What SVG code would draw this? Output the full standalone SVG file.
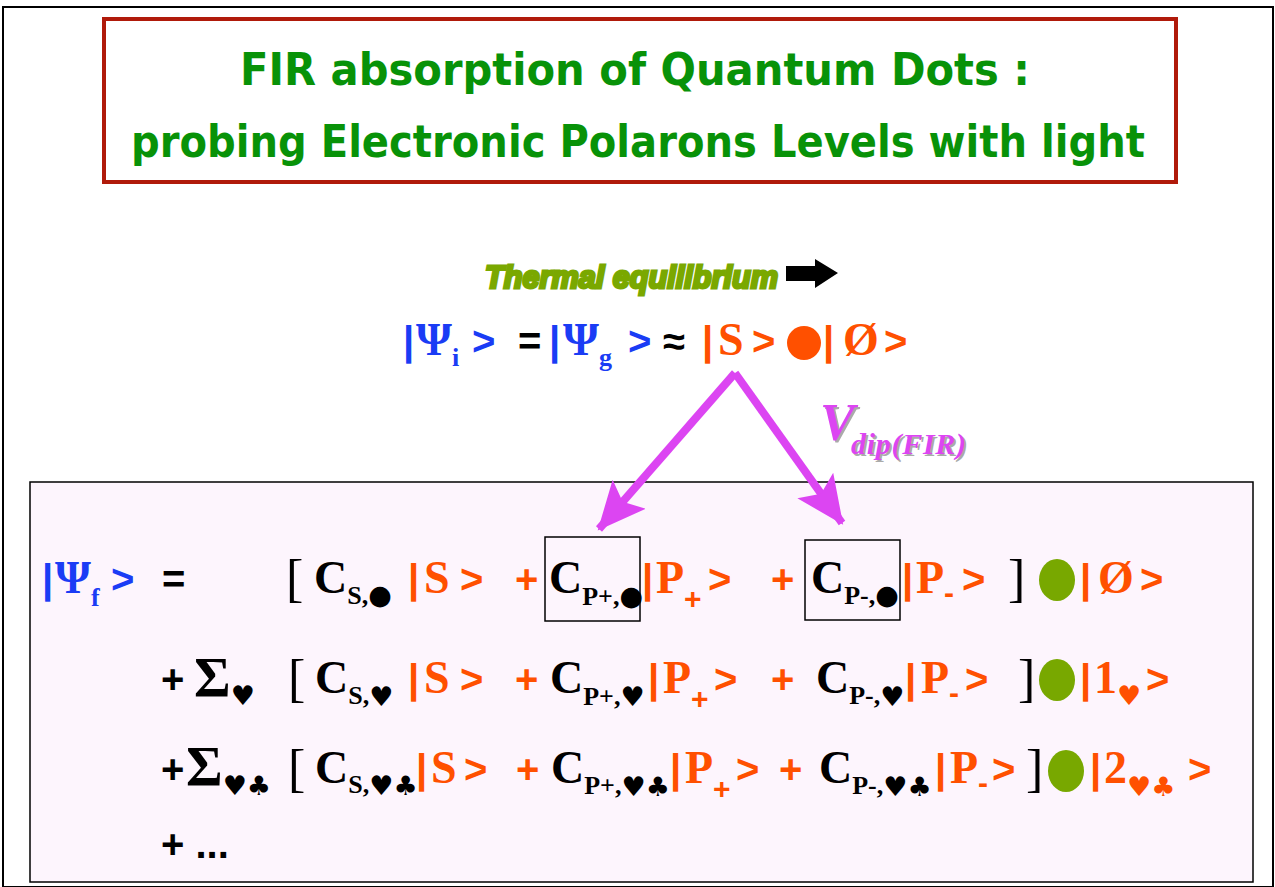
<svg xmlns="http://www.w3.org/2000/svg" width="1275" height="887" viewBox="0 0 1275 887">
<defs>
<style>
.o{fill:#ff5000}.b{fill:#1a3cf5}.k{fill:#000}
.sa{font-family:"Liberation Sans",Arial,sans-serif;font-weight:bold;font-size:40px}
.se{font-family:"Liberation Serif","Times New Roman",serif;font-weight:bold;font-size:46px}
.br{font-family:"Liberation Serif","Times New Roman",serif;font-size:52px}
.sub{font-family:"Liberation Serif","Times New Roman",serif;font-weight:bold;font-size:26px}
.sym{font-family:"DejaVu Sans",sans-serif;font-size:27px;font-weight:normal}
.ps{font-family:"Liberation Sans",Arial,sans-serif;font-weight:bold;font-size:30px}
.sig{font-family:"Liberation Serif","Times New Roman",serif;font-weight:bold;font-size:56px}
.title{font-family:"DejaVu Sans","Liberation Sans",sans-serif;font-weight:bold;font-size:44px;fill:#089208}
</style>
<marker id="ah" markerUnits="userSpaceOnUse" markerWidth="50" markerHeight="50" viewBox="0 0 50 50" refX="46" refY="25" orient="auto">
<path d="M0,3 L48,25 L0,47 L10,25 Z" fill="#dc45f2"/>
</marker>
</defs>
<rect x="0" y="0" width="1275" height="887" fill="#fff"/>
<rect x="3" y="7" width="1270" height="880" fill="none" stroke="#000" stroke-width="2"/>

<g id="title">
<rect x="104" y="19" width="1072" height="163" fill="#fff" stroke="#b01a0a" stroke-width="4"/>
<text class="title" x="240" y="85" textLength="790" lengthAdjust="spacingAndGlyphs">FIR absorption of Quantum Dots :</text>
<text class="title" x="131" y="157" textLength="1014" lengthAdjust="spacingAndGlyphs">probing Electronic Polarons Levels with light</text>
</g>

<g id="thermal">
<text x="485" y="288" font-family="Liberation Sans,Arial,sans-serif" font-style="italic" font-weight="bold" font-size="32" fill="#7aa800" stroke="#7aa800" stroke-width="3" textLength="293" lengthAdjust="spacingAndGlyphs">Thermal equilibrium</text>
<polygon points="786,266 815,266 815,259 838,273 815,288 815,281 786,281" fill="#000"/>
</g>

<g id="initial-state">
<text class="sa b" x="403" y="355">|</text>
<text class="se b" x="416" y="355">Ψ<tspan class="sub" dy="11">i</tspan></text>
<text class="sa b" x="472" y="355">&gt;</text>
<text class="sa k" x="518" y="355" font-weight="normal">=</text>
<text class="sa b" x="549" y="355">|</text>
<text class="se b" x="563" y="355">Ψ<tspan class="sub" dy="11">g</tspan></text>
<text class="sa b" x="628" y="355">&gt;</text>
<text class="sa k" x="663" y="355" font-weight="normal" font-size="34">≈</text>
<text class="sa o" x="702" y="355">|</text>
<text class="se o" x="718" y="355">S</text>
<text class="sa o" x="752" y="355">&gt;</text>
<circle cx="804" cy="343" r="17" fill="#ff5000"/>
<text class="sa o" x="823" y="355">|</text>
<text class="se o" x="843" y="355">Ø</text>
<text class="sa o" x="884" y="355">&gt;</text>
</g>

<g id="final-box">
<rect x="30" y="482" width="1223" height="400" fill="#fdf5fd" stroke="#000" stroke-width="1.5"/>
<rect x="545" y="537" width="95" height="84" fill="none" stroke="#000" stroke-width="1.5"/>
<rect x="805" y="540" width="95" height="80" fill="none" stroke="#000" stroke-width="1.5"/>
</g>

<g id="connectors">
<line x1="735" y1="373" x2="599" y2="529" stroke="#dc45f2" stroke-width="8" marker-end="url(#ah)"/>
<line x1="735" y1="373" x2="842" y2="523" stroke="#dc45f2" stroke-width="8" marker-end="url(#ah)"/>
</g>

<g id="vdip">
<text x="822" y="442" font-family="Liberation Serif,serif" font-style="italic" font-weight="bold" font-size="52" fill="#aaa">V</text>
<text x="820" y="440" font-family="Liberation Serif,serif" font-style="italic" font-weight="bold" font-size="52" fill="#dc45f2">V</text>
<text x="853" y="456" font-family="Liberation Serif,serif" font-style="italic" font-weight="bold" font-size="30" fill="#aaa" textLength="115">dip(FIR)</text>
<text x="851" y="454" font-family="Liberation Serif,serif" font-style="italic" font-weight="bold" font-size="30" fill="#dc45f2" textLength="115">dip(FIR)</text>
</g>

<g id="final-state">
<!-- row 1 -->
<text class="sa b" x="42" y="593">|</text>
<text class="se b" x="55" y="593">Ψ<tspan class="sub" dy="13">f</tspan></text>
<text class="sa b" x="111" y="593">&gt;</text>
<text class="sa k" x="162" y="593">=</text>
<text class="br k" x="286" y="596">[</text>
<text class="se k" x="314" y="593">C<tspan class="sub" dy="11">S,</tspan><tspan class="sym">●</tspan></text>
<text class="sa o" x="408" y="593">|</text>
<text class="se o" x="424" y="593">S</text>
<text class="sa o" x="460" y="593">&gt;</text>
<text class="sa o" x="515" y="593">+</text>
<text class="se k" x="549" y="593">C<tspan class="sub" dy="12">P+,</tspan><tspan class="sym">●</tspan></text>
<text class="sa o" x="642" y="593">|</text>
<text class="se o" x="656" y="593">P<tspan class="ps" dy="16">+</tspan></text>
<text class="sa o" x="708" y="593">&gt;</text>
<text class="sa o" x="771" y="593">+</text>
<text class="se k" x="811" y="593">C<tspan class="sub" dy="11">P-,</tspan><tspan class="sym">●</tspan></text>
<text class="sa o" x="902" y="593">|</text>
<text class="se o" x="916" y="593">P<tspan class="ps" dy="10">-</tspan></text>
<text class="sa o" x="962" y="593">&gt;</text>
<text class="br k" x="1008" y="596">]</text>
<ellipse cx="1057" cy="580" rx="18" ry="21" fill="#78a800"/>
<text class="sa o" x="1080" y="593">|</text>
<text class="se o" x="1098" y="593">Ø</text>
<text class="sa o" x="1140" y="593">&gt;</text>
<!-- row 2 -->
<text class="sa k" x="161" y="693">+</text>
<text class="sig k" x="194" y="697">Σ<tspan class="sym" dy="8">♥</tspan></text>
<text class="br k" x="288" y="696">[</text>
<text class="se k" x="315" y="693">C<tspan class="sub" dy="11">S,</tspan><tspan class="sym" dy="2">♥</tspan></text>
<text class="sa o" x="408" y="693">|</text>
<text class="se o" x="424" y="693">S</text>
<text class="sa o" x="460" y="693">&gt;</text>
<text class="sa o" x="515" y="693">+</text>
<text class="se k" x="550" y="693">C<tspan class="sub" dy="12">P+,</tspan><tspan class="sym" dy="1">♥</tspan></text>
<text class="sa o" x="648" y="693">|</text>
<text class="se o" x="663" y="693">P<tspan class="ps" dy="16">+</tspan></text>
<text class="sa o" x="714" y="693">&gt;</text>
<text class="sa o" x="771" y="693">+</text>
<text class="se k" x="816" y="693">C<tspan class="sub" dy="11">P-,</tspan><tspan class="sym" dy="2">♥</tspan></text>
<text class="sa o" x="905" y="693">|</text>
<text class="se o" x="921" y="693">P<tspan class="ps" dy="10">-</tspan></text>
<text class="sa o" x="965" y="693">&gt;</text>
<text class="br k" x="1018" y="696">]</text>
<ellipse cx="1057" cy="680" rx="18" ry="21" fill="#78a800"/>
<text class="sa o" x="1080" y="693">|</text>
<text class="se o" x="1094" y="693">1<tspan class="sym" dy="12">♥</tspan></text>
<text class="sa o" x="1146" y="693">&gt;</text>
<!-- row 3 -->
<text class="sa k" x="161" y="783">+</text>
<text class="sig k" x="186" y="786">Σ<tspan class="sym" dy="9">♥♣</tspan></text>
<text class="br k" x="288" y="786">[</text>
<text class="se k" x="315" y="783">C<tspan class="sub" dy="10">S,</tspan><tspan class="sym" dy="2">♥♣</tspan></text>
<text class="sa o" x="416" y="783">|</text>
<text class="se o" x="431" y="783">S</text>
<text class="sa o" x="464" y="783">&gt;</text>
<text class="sa o" x="516" y="783">+</text>
<text class="se k" x="551" y="783">C<tspan class="sub" dy="11">P+,</tspan><tspan class="sym" dy="2">♥♣</tspan></text>
<text class="sa o" x="670" y="783">|</text>
<text class="se o" x="685" y="783">P<tspan class="ps" dy="16">+</tspan></text>
<text class="sa o" x="736" y="783">&gt;</text>
<text class="sa o" x="779" y="783">+</text>
<text class="se k" x="819" y="783">C<tspan class="sub" dy="11">P-,</tspan><tspan class="sym" dy="2">♥♣</tspan></text>
<text class="sa o" x="935" y="783">|</text>
<text class="se o" x="950" y="783">P<tspan class="ps" dy="10">-</tspan></text>
<text class="sa o" x="992" y="783">&gt;</text>
<text class="br k" x="1026" y="786">]</text>
<ellipse cx="1066" cy="771" rx="18" ry="21" fill="#78a800"/>
<text class="sa o" x="1090" y="783">|</text>
<text class="se o" x="1104" y="783">2<tspan class="sym" dy="13">♥♣</tspan></text>
<text class="sa o" x="1188" y="783">&gt;</text>
<!-- row 4 -->
<text class="sa k" x="161" y="858" font-size="34">+ ...</text>
</g>
</svg>
